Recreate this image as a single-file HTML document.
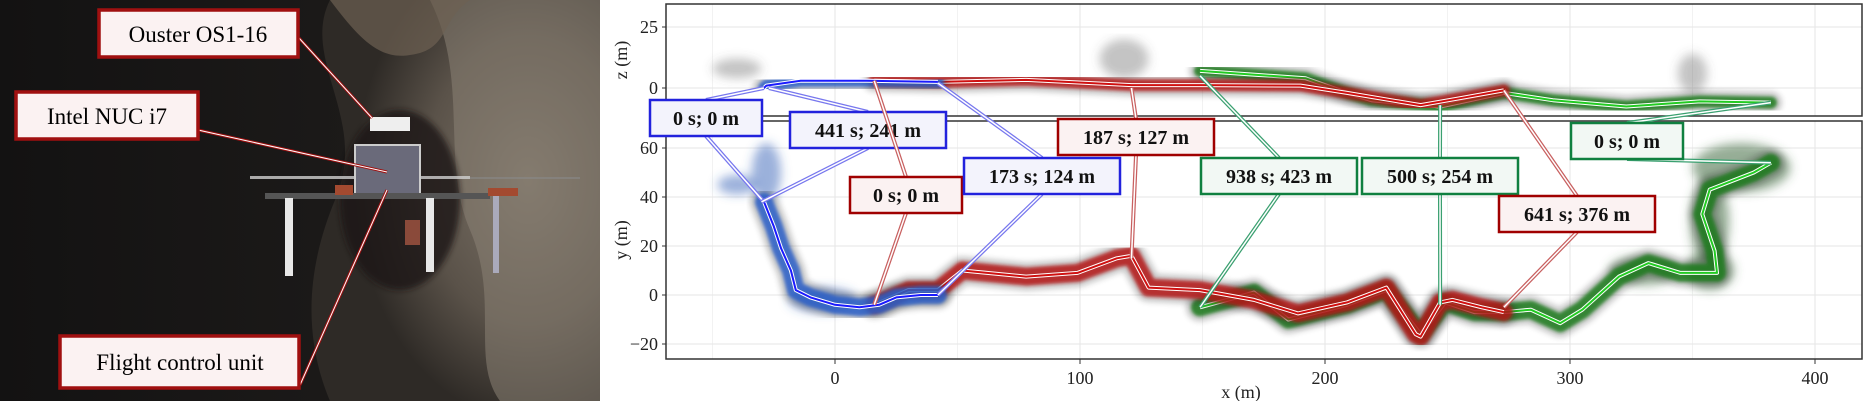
<!DOCTYPE html>
<html><head><meta charset="utf-8">
<style>
html,body{margin:0;padding:0;background:#fff;width:1870px;height:401px;overflow:hidden}
svg{display:block}
text{font-family:"Liberation Serif",serif}
</style></head>
<body>
<svg id="fig" width="1870" height="401" viewBox="0 0 1870 401" xmlns="http://www.w3.org/2000/svg">
<defs>
  <radialGradient id="rockG" cx="0.75" cy="0.45" r="0.6">
    <stop offset="0" stop-color="#7d7468"/><stop offset="0.6" stop-color="#5a5249"/><stop offset="1" stop-color="#2e2a26"/>
  </radialGradient>
  <linearGradient id="darkG" x1="0" y1="0" x2="1" y2="0">
    <stop offset="0" stop-color="#131212"/><stop offset="0.6" stop-color="#1c1a19"/><stop offset="1" stop-color="#2a2623"/>
  </linearGradient>
  <filter id="blur4"><feGaussianBlur stdDeviation="3"/></filter>
  <filter id="blur6"><feGaussianBlur stdDeviation="5"/></filter>
  <filter id="blur2"><feGaussianBlur stdDeviation="1.5"/></filter>
  <clipPath id="clipTop"><rect x="666" y="4" width="1196" height="112"/></clipPath>
  <clipPath id="clipBot"><rect x="666" y="121" width="1196" height="238"/></clipPath>
</defs>

<!-- PHOTO -->
<g>
  <rect x="0" y="0" width="600" height="401" fill="url(#darkG)"/>
  <path d="M330,0 L600,0 L600,401 L330,401 C300,330 310,260 335,200 C370,120 300,60 330,0Z" fill="url(#rockG)"/>
  <path d="M430,0 C470,80 440,160 470,230 C500,300 470,360 500,401 L600,401 L600,0Z" fill="#8a8275" opacity="0.55"/>
  <path d="M330,0 C360,40 380,60 410,55 C450,50 440,20 470,0Z" fill="#6e6152" opacity="0.7"/>
  <ellipse cx="400" cy="200" rx="60" ry="90" fill="#1a1816" opacity="0.8" filter="url(#blur4)"/>
  <g>
    <rect x="250" y="176" width="220" height="3" fill="#cfcfcf" opacity="0.8"/>
    <rect x="470" y="177" width="110" height="2" fill="#888" opacity="0.6"/>
    <rect x="370" y="117" width="40" height="14" fill="#eee"/>
    <rect x="355" y="145" width="65" height="50" fill="#6a6a7a" stroke="#ccc" stroke-width="2"/>
    <rect x="265" y="193" width="225" height="6" fill="#555"/>
    <rect x="285" y="198" width="8" height="78" fill="#e8e8e8"/>
    <rect x="426" y="198" width="8" height="74" fill="#e8e8e8"/>
    <rect x="493" y="195" width="6" height="78" fill="#aab"/>
    <rect x="335" y="185" width="18" height="10" fill="#a34a30"/>
    <rect x="488" y="188" width="30" height="8" fill="#a34a30"/>
    <rect x="405" y="220" width="15" height="25" fill="#8a4a3a"/>
  </g>
  <g stroke="#a01010" stroke-width="3" fill="none">
    <line x1="299" y1="38" x2="372" y2="118"/>
    <line x1="198" y1="130" x2="387" y2="172"/>
    <line x1="300" y1="385" x2="387" y2="190"/>
  </g>
  <g stroke="#fff" stroke-width="1" fill="none">
    <line x1="299" y1="38" x2="372" y2="118"/>
    <line x1="198" y1="130" x2="387" y2="172"/>
    <line x1="300" y1="385" x2="387" y2="190"/>
  </g>
  <g>
    <rect x="99" y="10" width="199" height="47" fill="#fbf2f2" stroke="#a01010" stroke-width="3.5"/>
    <text x="198" y="42" font-size="23" text-anchor="middle">Ouster OS1-16</text>
  </g>
  <g>
    <rect x="16" y="92" width="182" height="47" fill="#fbf2f2" stroke="#a01010" stroke-width="3.5"/>
    <text x="107" y="124" font-size="23" text-anchor="middle">Intel NUC i7</text>
  </g>
  <g>
    <rect x="60" y="336" width="239" height="52" fill="#fbf2f2" stroke="#a01010" stroke-width="3.5"/>
    <text x="180" y="370" font-size="23" text-anchor="middle">Flight control unit</text>
  </g>
</g>

<g id="chart"></g>
</svg>

<script>
// ---- data (metres) ----
const xTicks = [0, 100, 200, 300, 400];
const zTicks = [0, 25];
const yTicks = [-20, 0, 20, 40, 60];
const blueXY = [[-29,38],[-25,28],[-22,19],[-18,10],[-16,2],[-10,-1],[0,-4],[10,-5],[18,-4],[25,-1],[35,0],[42,0]];
const redXY = [[16,-4],[30,2],[42,2],[52,10],[78,7.5],[99,9],[115,15],[121,16],[128,3],[149,2],[171,-2],[189,-7.5],[209,-3],[225,3],[237,-16],[239,-17],[247,-3],[252,-2],[264,-5],[273,-7]];
const greenXY = [[382,54],[375,50],[357,43],[354,33],[359,18],[360,9],[345,9],[332,13],[320,7.5],[305,-6],[296,-11.5],[284,-6],[273,-7],[261,-7],[249,-3],[239,-16],[225,2],[209,-4],[185,-10],[171,1],[149,-5]];
const blueXZ = [[-29,0],[-28,1],[-14,3],[13,3],[42,2.5]];
const redXZ = [[16,3],[42,2.5],[78,3.3],[121,1.2],[149,1.2],[190,1],[209,-2],[239,-7],[256,-4],[273,-1]];
const greenXZ = [[382,-6],[353,-5.5],[323,-7.6],[293,-5],[273,-2],[247,-7.6],[219,-5],[209,-2],[192,4],[149,7]];
// point-cloud blobs: [x, y, rx(m), ry(m)]
const greenCloudXY = [[370,52,20,10],[357,30,8,18],[357,10,10,8],[330,10,14,6]];
const blueCloudXY = [[-28,50,6,12],[-5,-2,14,5],[-40,45,8,4]];
const grayCloudXZ = [[118,12,10,8],[-40,8,10,4],[350,6,6,8]];
const labels = ["0 s; 0 m","441 s; 241 m","0 s; 0 m","173 s; 124 m","187 s; 127 m","938 s; 423 m","500 s; 254 m","641 s; 376 m","0 s; 0 m"];
const labelPhase = ["blue","blue","red","blue","red","green","green","red","green"];
const labelTopTarget = [[-29,0],[-27,0],[16,3],[42,2],[121,0],[149,5],[247,-7],[273,-1],[382,-6]];
const labelBotTarget = [[-29,38],[-30,38],[16,-4],[42,0],[121,15],[149,-5],[247,-4],[273,-5],[382,54]];
const labelCenter = [[706,118],[868,130],[906,195],[1042,176],[1136,137],[1279,176],[1440,176],[1577,214],[1627,141]];

// ---- scales ----
const X0=835, XS=2.45;
const sx = v => X0 + v*XS;
const szTop = v => 88 - v*2.44;
const syBot = v => 295 - v*2.45;
const NS="http://www.w3.org/2000/svg";
const chart=document.getElementById('chart');
function mk(tag, attrs, parent){const e=document.createElementNS(NS,tag);for(const k in attrs)e.setAttribute(k,attrs[k]);(parent||chart).appendChild(e);return e;}

const colors={blue:{halo:"#2b5fc8",line:"#1a1aff",box:"#2222dd",fill:"#f3f3fc",arrow:"#7777ee"},
red:{halo:"#b41414",line:"#d01010",box:"#a00000",fill:"#fbf2f2",arrow:"#c86060"},
green:{halo:"#1d7a1d",line:"#22cc22",box:"#108040",fill:"#f2f8f4",arrow:"#3aa070"}};

const panels=[{y1:4,y2:116,ticks:zTicks,sc:szTop,title:"z (m)",clip:"clipTop",name:"xz-panel"},
{y1:121,y2:359,ticks:yTicks,sc:syBot,title:"y (m)",clip:"clipBot",name:"xy-panel"}];
panels.forEach(p=>{
  const g=mk('g',{});
  
  
  mk('rect',{x:666,y:p.y1,width:1196,height:p.y2-p.y1,fill:"#fff"},g);
  xTicks.concat([-50,50,150,250,350]).forEach(t=>{
    const l=mk('line',{x1:sx(t),x2:sx(t),y1:p.y1,y2:p.y2,stroke:t%100===0?"#e6e6e6":"#f2f2f2","stroke-width":1},g);
    
    
  });
  p.ticks.forEach(t=>{
    const l=mk('line',{x1:666,x2:1862,y1:p.sc(t),y2:p.sc(t),stroke:"#e6e6e6","stroke-width":1},g);
    
    
    mk('line',{x1:662,x2:666,y1:p.sc(t),y2:p.sc(t),stroke:"#333"},g);
    const tx=mk('text',{x:658,y:p.sc(t)+6,"font-size":18,"text-anchor":"end",fill:"#222"},g);
    tx.textContent=t<0?"\u2212"+Math.abs(t):String(t);
    
    
  });
  const cy=(p.y1+p.y2)/2;
  const tt=mk('text',{x:627,y:cy,"font-size":18,"text-anchor":"middle",transform:`rotate(-90 627 ${cy})`,fill:"#222"},g);
  tt.textContent=p.title;
  
  
});

function blobs(arr,sc,col,op,clip,name){
  const g=mk('g',{"clip-path":`url(#${clip})`,filter:"url(#blur6)"});
  
  
  arr.forEach(b=>{
    mk('ellipse',{cx:sx(b[0]),cy:sc(b[1]),rx:b[2]*XS,ry:b[3]*2.45,fill:col,opacity:op},g);
  });
}
blobs(greenCloudXY,syBot,"#3f6a3f",0.55,"clipBot","green-point-cloud");
blobs(blueCloudXY,syBot,"#3a64b8",0.5,"clipBot","blue-point-cloud");
blobs(grayCloudXZ,szTop,"#555",0.35,"clipTop","gray-point-cloud");

function pts(arr,sc){return arr.map(d=>sx(d[0]).toFixed(1)+","+sc(d[1]).toFixed(1)).join(" ");}
function drawPath(arr,sc,phase,clip,name,w){
  const g=mk('g',{"clip-path":`url(#${clip})`});
  
  
  const c=colors[phase];
  mk('polyline',{points:pts(arr,sc),fill:"none",stroke:"#222","stroke-width":w+10,opacity:0.25,"stroke-linejoin":"round","stroke-linecap":"round",filter:"url(#blur4)"},g);
  mk('polyline',{points:pts(arr,sc),fill:"none",stroke:c.halo,"stroke-width":w,opacity:0.85,"stroke-linejoin":"round","stroke-linecap":"round",filter:"url(#blur2)"},g);
  mk('polyline',{points:pts(arr,sc),fill:"none",stroke:"#fff","stroke-width":4,"stroke-linejoin":"round"},g);
  mk('polyline',{points:pts(arr,sc),fill:"none",stroke:c.line,"stroke-width":2,"stroke-linejoin":"round"},g);
}
drawPath(greenXY,syBot,"green","clipBot","green-trajectory-xy",18);
drawPath(redXY,syBot,"red","clipBot","red-trajectory-xy",18);
drawPath(blueXY,syBot,"blue","clipBot","blue-trajectory-xy",18);
drawPath(greenXZ,szTop,"green","clipTop","green-trajectory-xz",12);
drawPath(redXZ,szTop,"red","clipTop","red-trajectory-xz",12);
drawPath(blueXZ,szTop,"blue","clipTop","blue-trajectory-xz",12);

panels.forEach(p=>{
  const r=mk('rect',{x:666,y:p.y1,width:1196,height:p.y2-p.y1,fill:"none",stroke:"#333","stroke-width":1.5});
  
  
});
xTicks.forEach(t=>{
  mk('line',{x1:sx(t),x2:sx(t),y1:359,y2:364,stroke:"#333"});
  const tx=mk('text',{x:sx(t),y:384,"font-size":18,"text-anchor":"middle",fill:"#222"});
  tx.textContent=String(t);
  
  
});
const xt=mk('text',{x:1241,y:398,"font-size":18,"text-anchor":"middle",fill:"#222"});
xt.textContent="x (m)";



function arrow(x1,y1,x2,y2,col){
  mk('line',{x1,y1,x2,y2,stroke:col,"stroke-width":4});
  mk('line',{x1,y1,x2,y2,stroke:"#fff","stroke-width":1.5});
}
labels.forEach((lab,i)=>{
  const c=colors[labelPhase[i]];
  const [cx,cy]=labelCenter[i];
  const w=lab.length*11+24, h=36;
  const tT=labelTopTarget[i], tB=labelBotTarget[i];
  arrow(cx,cy-h/2,sx(tT[0]),szTop(tT[1]),c.arrow);
  arrow(cx,cy+h/2,sx(tB[0]),syBot(tB[1]),c.arrow);
  const g=mk('g',{});
  
  
  mk('rect',{x:cx-w/2,y:cy-h/2,width:w,height:h,fill:c.fill,stroke:c.box,"stroke-width":2.5},g);
  const t=mk('text',{x:cx,y:cy+7,"font-size":20,"font-weight":"bold","text-anchor":"middle",fill:"#111"},g);
  t.textContent=lab;
});
</script>
</body></html>
